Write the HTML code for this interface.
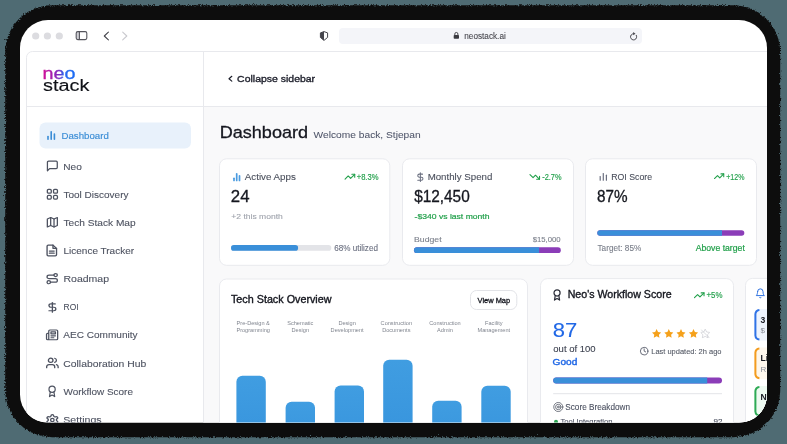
<!DOCTYPE html>
<html><head><meta charset="utf-8"><title>neostack dashboard</title>
<style>
html,body{margin:0;padding:0;background:#4f6b73;width:787px;height:444px;overflow:hidden}
svg text{font-family:"Liberation Sans", sans-serif}
</style></head><body>
<svg width="787" height="444" viewBox="0 0 787 444" style="display:block;will-change:transform">
<defs>
<filter id="jag" x="-5%" y="-5%" width="110%" height="110%"><feTurbulence type="turbulence" baseFrequency="0.9" numOctaves="1" seed="3" result="n"/><feDisplacementMap in="SourceGraphic" in2="n" scale="3.2" xChannelSelector="R" yChannelSelector="G"/></filter>
<clipPath id="win"><rect x="20" y="20" width="747" height="402.6" rx="28"/></clipPath>
<linearGradient id="neo" x1="0" x2="1" y1="0" y2="0">
<stop offset="0" stop-color="#d40f97"/><stop offset="0.3" stop-color="#a21fb0"/><stop offset="0.5" stop-color="#7a2cc0"/><stop offset="0.64" stop-color="#2a68f0"/><stop offset="1" stop-color="#1a6cf5"/>
</linearGradient>
<linearGradient id="bar" x1="0" x2="0" y1="0" y2="1">
<stop offset="0" stop-color="#409de1"/><stop offset="1" stop-color="#3592dc"/>
</linearGradient>
</defs>
<rect x="4.2" y="4.2" width="775" height="432" rx="47" fill="#0c0c0c" filter="url(#jag)"/>
<rect x="20" y="20" width="747" height="402.6" rx="28" fill="#ffffff"/>
<g clip-path="url(#win)">

<circle cx="35.7" cy="36" r="3.6" fill="#dcdce0"/>
<circle cx="47.4" cy="36" r="3.6" fill="#dcdce0"/>
<circle cx="59.3" cy="36" r="3.6" fill="#dcdce0"/>
<rect x="76.4" y="31.8" width="3" height="7.6" fill="#d0d0d5"/>
<rect x="76.2" y="31.6" width="10.6" height="8" rx="1.6" fill="none" stroke="#55555c" stroke-width="1.1"/>
<line x1="79.4" y1="31.6" x2="79.4" y2="39.6" stroke="#55555c" stroke-width="1.1"/>
<path d="M108.4 32.1 L104.3 36 L108.4 39.9" fill="none" stroke="#45454c" stroke-width="1.1" stroke-linecap="round" stroke-linejoin="round"/>
<path d="M122.7 32.1 L126.8 36 L122.7 39.9" fill="none" stroke="#c9c9ce" stroke-width="1.1" stroke-linecap="round" stroke-linejoin="round"/>
<path d="M324 31.6 L320.4 32.9 V37.4 L324 40.4 L327.6 37.4 V32.9 Z" fill="none" stroke="#45454c" stroke-width="1" stroke-linejoin="round"/>
<path d="M324 31.6 L320.4 32.9 V37.4 L324 40.4 Z" fill="#45454c"/>
<rect x="339" y="28" width="303" height="16" rx="4" fill="#f4f5f9"/>
<rect x="453.7" y="35" width="5.3" height="3.8" rx="0.8" fill="#3a3a40"/>
<path d="M454.8 35.2 V34 A1.55 1.55 0 0 1 457.9 34 V35.2" fill="none" stroke="#3a3a40" stroke-width="0.9"/>
<text x="464.31" y="38.70" font-size="8.2" fill="#48484f" textLength="41.48" lengthAdjust="spacingAndGlyphs"  stroke="#48484f" stroke-width="0.1">neostack.ai</text>
<path d="M636.3 35.25 A3.1 3.1 0 1 1 633.4 33.7" fill="none" stroke="#45454c" stroke-width="1" stroke-linecap="round"/>
<path d="M633.2 32.1 L635.5 33.7 L633.2 35.3 Z" fill="#45454c"/>
<rect x="26.5" y="51.5" width="780" height="420" rx="6" fill="#ffffff" stroke="#e8e9ed" stroke-width="1"/>
<rect x="204" y="107" width="600" height="340" fill="#f9f9fa"/>
<line x1="203.5" y1="52" x2="203.5" y2="444" stroke="#e8e9ed" stroke-width="1"/>
<line x1="27" y1="106.5" x2="800" y2="106.5" stroke="#e8e9ed" stroke-width="1"/>
<text x="42.40" y="79.20" font-size="15.6" fill="url(#neo)" textLength="33.00" lengthAdjust="spacingAndGlyphs" stroke="url(#neo)" stroke-width="0.3">neo</text>
<text x="43.10" y="91.30" font-size="15.8" fill="#0f1117" textLength="46.40" lengthAdjust="spacingAndGlyphs" stroke="#0f1117" stroke-width="0.12">stack</text>
<path d="M231.8 76.3 L229 78.7 L231.8 81.1" fill="none" stroke="#1d1f2b" stroke-width="1.2" stroke-linecap="round" stroke-linejoin="round"/>
<text x="237.11" y="81.80" font-size="9.8" fill="#1d1f2b" textLength="77.98" lengthAdjust="spacingAndGlyphs" stroke="#1d1f2b" stroke-width="0.35">Collapse sidebar</text>
<rect x="39.5" y="122.5" width="151.5" height="26" rx="6" fill="#e8f1fb"/>
<g stroke="#3a8dd6" stroke-width="1.6" stroke-linecap="round"><line x1="48" y1="136.5" x2="48" y2="139.2"/><line x1="51.2" y1="131.8" x2="51.2" y2="139.2"/><line x1="54.4" y1="134" x2="54.4" y2="139.2"/></g>
<text x="61.52" y="138.90" font-size="9.6" fill="#3a8dd6" textLength="47.25" lengthAdjust="spacingAndGlyphs" stroke="#3a8dd6" stroke-width="0.15">Dashboard</text>
<text x="63.32" y="169.70" font-size="9.6" fill="#4d5260" textLength="18.55" lengthAdjust="spacingAndGlyphs"  stroke="#4d5260" stroke-width="0.1">Neo</text>
<text x="63.52" y="197.82" font-size="9.6" fill="#4d5260" textLength="64.95" lengthAdjust="spacingAndGlyphs"  stroke="#4d5260" stroke-width="0.1">Tool Discovery</text>
<text x="63.42" y="225.95" font-size="9.6" fill="#4d5260" textLength="72.25" lengthAdjust="spacingAndGlyphs"  stroke="#4d5260" stroke-width="0.1">Tech Stack Map</text>
<text x="63.52" y="254.07" font-size="9.6" fill="#4d5260" textLength="70.55" lengthAdjust="spacingAndGlyphs"  stroke="#4d5260" stroke-width="0.1">Licence Tracker</text>
<text x="63.52" y="282.20" font-size="9.6" fill="#4d5260" textLength="45.55" lengthAdjust="spacingAndGlyphs"  stroke="#4d5260" stroke-width="0.1">Roadmap</text>
<text x="63.52" y="310.32" font-size="9.6" fill="#4d5260" textLength="15.05" lengthAdjust="spacingAndGlyphs"  stroke="#4d5260" stroke-width="0.1">ROI</text>
<text x="63.32" y="338.45" font-size="9.6" fill="#4d5260" textLength="74.25" lengthAdjust="spacingAndGlyphs"  stroke="#4d5260" stroke-width="0.1">AEC Community</text>
<text x="63.32" y="366.57" font-size="9.6" fill="#4d5260" textLength="82.95" lengthAdjust="spacingAndGlyphs"  stroke="#4d5260" stroke-width="0.1">Collaboration Hub</text>
<text x="63.52" y="394.70" font-size="9.6" fill="#4d5260" textLength="69.45" lengthAdjust="spacingAndGlyphs"  stroke="#4d5260" stroke-width="0.1">Workflow Score</text>
<text x="63.32" y="422.82" font-size="9.6" fill="#4d5260" textLength="38.25" lengthAdjust="spacingAndGlyphs"  stroke="#4d5260" stroke-width="0.1">Settings</text>
<svg x="46.8" y="160.5" width="11.100000000000001" height="10.900000000000006" viewBox="1.85 1.85 20.3 20.3" preserveAspectRatio="none" fill="none" stroke="#4d5260" stroke-width="2.3" stroke-linecap="round" stroke-linejoin="round" overflow="visible"><path d="M21 15a2 2 0 0 1-2 2H7l-4 4V5a2 2 0 0 1 2-2h14a2 2 0 0 1 2 2z"/></svg>
<svg x="46.7" y="188.8" width="11.399999999999999" height="11.0" viewBox="1.85 1.85 20.3 20.3" preserveAspectRatio="none" fill="none" stroke="#4d5260" stroke-width="2.3" stroke-linecap="round" stroke-linejoin="round" overflow="visible"><rect x="3" y="3" width="7" height="7" rx="2"/><rect x="14" y="3" width="7" height="7" rx="2"/><rect x="3" y="14" width="7" height="7" rx="2"/><rect x="14" y="14" width="7" height="7" rx="2"/></svg>
<svg x="46.7" y="217" width="11.299999999999997" height="10.599999999999994" viewBox="1.85 1.85 20.3 21.3" preserveAspectRatio="none" fill="none" stroke="#4d5260" stroke-width="2.3" stroke-linecap="round" stroke-linejoin="round" overflow="visible"><polygon points="3 6 3 22 9 19 15 22 21 19 21 3 15 6 9 3 3 6"/><line x1="9" y1="3" x2="9" y2="19"/><line x1="15" y1="6" x2="15" y2="22"/></svg>
<svg x="46.4" y="244.5" width="10.800000000000004" height="12.0" viewBox="2.85 0.8500000000000001 18.3 22.3" preserveAspectRatio="none" fill="none" stroke="#4d5260" stroke-width="2.3" stroke-linecap="round" stroke-linejoin="round" overflow="visible"><path d="M14 2H6a2 2 0 0 0-2 2v16a2 2 0 0 0 2 2h12a2 2 0 0 0 2-2V8z"/><polyline points="14 2 14 8 20 8"/><line x1="16" y1="13" x2="8" y2="13"/><line x1="16" y1="17" x2="8" y2="17"/></svg>
<svg x="46.4" y="273" width="11.600000000000001" height="11.300000000000011" viewBox="1.85 0.8500000000000001 20.3 22.3" preserveAspectRatio="none" fill="none" stroke="#4d5260" stroke-width="2.3" stroke-linecap="round" stroke-linejoin="round" overflow="visible"><circle cx="6" cy="19" r="3"/><path d="M9 19h8.5a3.5 3.5 0 0 0 0-7h-11a3.5 3.5 0 0 1 0-7H15"/><circle cx="18" cy="5" r="3"/></svg>
<svg x="48.3" y="301.9" width="7.600000000000001" height="10.800000000000011" viewBox="4.85 0.8500000000000001 13.3 22.3" preserveAspectRatio="none" fill="none" stroke="#4d5260" stroke-width="2.3" stroke-linecap="round" stroke-linejoin="round" overflow="visible"><line x1="12" y1="2" x2="12" y2="22"/><path d="M17 5H9.5a3.5 3.5 0 0 0 0 7h5a3.5 3.5 0 0 1 0 7H6"/></svg>
<svg x="45.9" y="329.4" width="12.399999999999999" height="10.900000000000034" viewBox="0.8500000000000001 0.8500000000000001 22.3 22.3" preserveAspectRatio="none" fill="none" stroke="#4d5260" stroke-width="2.3" stroke-linecap="round" stroke-linejoin="round" overflow="visible"><path d="M4 22h16a2 2 0 0 0 2-2V4a2 2 0 0 0-2-2H8a2 2 0 0 0-2 2v16a2 2 0 0 1-2 2Zm0 0a2 2 0 0 1-2-2v-9c0-1.1.9-2 2-2h2"/><path d="M18 14h-8"/><path d="M15 18h-5"/><path d="M10 6h8v4h-8V6Z"/></svg>
<svg x="46" y="357.6" width="12.799999999999997" height="10.699999999999989" viewBox="0.8500000000000001 1.85 22.3 20.3" preserveAspectRatio="none" fill="none" stroke="#4d5260" stroke-width="2.3" stroke-linecap="round" stroke-linejoin="round" overflow="visible"><path d="M16 21v-2a4 4 0 0 0-4-4H6a4 4 0 0 0-4 4v2"/><circle cx="9" cy="7" r="4"/><path d="M22 21v-2a4 4 0 0 0-3-3.87"/><path d="M16 3.13a4 4 0 0 1 0 7.75"/></svg>
<svg x="48.4" y="385.6" width="7.399999999999999" height="11.599999999999966" viewBox="4.85 0.8500000000000001 14.3 22.3" preserveAspectRatio="none" fill="none" stroke="#4d5260" stroke-width="2.3" stroke-linecap="round" stroke-linejoin="round" overflow="visible"><circle cx="12" cy="8" r="6"/><path d="M15.477 12.89 17 22l-5-3-5 3 1.523-9.11"/></svg>
<svg x="46.4" y="414" width="11.899999999999999" height="11.899999999999977" viewBox="1.85 0.8500000000000001 20.3 22.3" preserveAspectRatio="none" fill="none" stroke="#4d5260" stroke-width="2.3" stroke-linecap="round" stroke-linejoin="round" overflow="visible"><path d="M12.22 2h-.44a2 2 0 0 0-2 2v.18a2 2 0 0 1-1 1.73l-.43.25a2 2 0 0 1-2 0l-.15-.08a2 2 0 0 0-2.73.73l-.22.38a2 2 0 0 0 .73 2.73l.15.1a2 2 0 0 1 1 1.72v.51a2 2 0 0 1-1 1.74l-.15.09a2 2 0 0 0-.73 2.73l.22.38a2 2 0 0 0 2.73.73l.15-.08a2 2 0 0 1 2 0l.43.25a2 2 0 0 1 1 1.73V20a2 2 0 0 0 2 2h.44a2 2 0 0 0 2-2v-.18a2 2 0 0 1 1-1.73l.43-.25a2 2 0 0 1 2 0l.15.08a2 2 0 0 0 2.73-.73l.22-.39a2 2 0 0 0-.73-2.73l-.15-.08a2 2 0 0 1-1-1.74v-.5a2 2 0 0 1 1-1.74l.15-.09a2 2 0 0 0 .73-2.73l-.22-.38a2 2 0 0 0-2.73-.73l-.15.08a2 2 0 0 1-2 0l-.43-.25a2 2 0 0 1-1-1.73V4a2 2 0 0 0-2-2z"/><circle cx="12" cy="12" r="3"/></svg>
<text x="219.67" y="137.70" font-size="17.2" fill="#15171f" textLength="88.46" lengthAdjust="spacingAndGlyphs" stroke="#15171f" stroke-width="0.3">Dashboard</text>
<text x="313.64" y="137.60" font-size="9.4" fill="#50566a" textLength="107.03" lengthAdjust="spacingAndGlyphs" stroke="#50566a" stroke-width="0.05">Welcome back, Stjepan</text>
<rect x="219.5" y="158.8" width="170.3" height="106.5" rx="7" fill="#ffffff" stroke="#e9eaee" stroke-width="1"/>
<rect x="402.5" y="158.8" width="171" height="106.5" rx="7" fill="#ffffff" stroke="#e9eaee" stroke-width="1"/>
<rect x="585.5" y="158.8" width="171" height="106.5" rx="7" fill="#ffffff" stroke="#e9eaee" stroke-width="1"/>
<g stroke="#4a9be0" stroke-width="1.7" stroke-linecap="round"><line x1="234" y1="178.3" x2="234" y2="180.4"/><line x1="236.7" y1="173.8" x2="236.7" y2="180.4"/><line x1="239.5" y1="175.8" x2="239.5" y2="180.4"/></g>
<text x="244.75" y="180.30" font-size="9.2" fill="#4a4f5c" textLength="51.10" lengthAdjust="spacingAndGlyphs"  stroke="#4a4f5c" stroke-width="0.1">Active Apps</text>
<svg x="344.6" y="173.6" width="10.6" height="6.2" viewBox="1 6 22 12" fill="none" stroke="#22a04b" stroke-width="2.3" stroke-linecap="round" stroke-linejoin="round" overflow="visible" ><polyline points="22 7 13.5 15.5 8.5 10.5 2 17"/><polyline points="16 7 22 7 22 13"/></svg>
<text x="356.68" y="180.20" font-size="8.7" fill="#22a04b" textLength="21.84" lengthAdjust="spacingAndGlyphs" stroke="#22a04b" stroke-width="0.15">+8.3%</text>
<text x="230.86" y="202.00" font-size="15.6" fill="#15171f" textLength="18.67" lengthAdjust="spacingAndGlyphs" stroke="#15171f" stroke-width="0.3">24</text>
<text x="231.31" y="219.00" font-size="8.1" fill="#9ea2ab" textLength="51.57" lengthAdjust="spacingAndGlyphs"  stroke="#9ea2ab" stroke-width="0.1">+2 this month</text>
<rect x="231" y="245.1" width="100.3" height="5.7" rx="2.85" fill="#e3e4e8"/>
<rect x="231" y="245.1" width="67.1" height="5.7" rx="2.85" fill="#3a8fd9"/>
<text x="334.19" y="251.20" font-size="8.5" fill="#6b7080" textLength="43.72" lengthAdjust="spacingAndGlyphs"  stroke="#6b7080" stroke-width="0.1">68% utilized</text>
<svg x="416.8" y="172.4" width="6.7" height="9.5" viewBox="5 1 13 22" fill="none" stroke="#6b7080" stroke-width="2.4" stroke-linecap="round" stroke-linejoin="round" overflow="visible" ><line x1="12" y1="2" x2="12" y2="22"/><path d="M17 5H9.5a3.5 3.5 0 0 0 0 7h5a3.5 3.5 0 0 1 0 7H6"/></svg>
<text x="427.65" y="180.30" font-size="9.2" fill="#4a4f5c" textLength="64.70" lengthAdjust="spacingAndGlyphs"  stroke="#4a4f5c" stroke-width="0.1">Monthly Spend</text>
<svg x="529.5" y="173.8" width="10.5" height="6.2" viewBox="1 6 22 12" fill="none" stroke="#22a04b" stroke-width="2.3" stroke-linecap="round" stroke-linejoin="round" overflow="visible" ><polyline points="22 17 13.5 8.5 8.5 13.5 2 7"/><polyline points="16 17 22 17 22 11"/></svg>
<text x="542.28" y="180.20" font-size="8.7" fill="#22a04b" textLength="19.24" lengthAdjust="spacingAndGlyphs" stroke="#22a04b" stroke-width="0.15">-2.7%</text>
<text x="414.16" y="201.90" font-size="15.6" fill="#15171f" textLength="55.57" lengthAdjust="spacingAndGlyphs" stroke="#15171f" stroke-width="0.3">$12,450</text>
<text x="414.62" y="219.10" font-size="8" fill="#22a04b" textLength="74.86" lengthAdjust="spacingAndGlyphs" stroke="#22a04b" stroke-width="0.2">-$340 vs last month</text>
<text x="414.01" y="242.10" font-size="8.1" fill="#7a7f8a" textLength="27.57" lengthAdjust="spacingAndGlyphs"  stroke="#7a7f8a" stroke-width="0.1">Budget</text>
<text x="532.72" y="242.00" font-size="8" fill="#7a7f8a" textLength="27.96" lengthAdjust="spacingAndGlyphs"  stroke="#7a7f8a" stroke-width="0.1">$15,000</text>
<rect x="414" y="247.3" width="146.8" height="5.7" rx="2.85" fill="#8b3db8"/>
<path d="M416.85 247.3 H539.1 V253 H416.85 A2.85 2.85 0 0 1 416.85 247.3 Z" fill="#3a8fd9"/>
<g stroke="#6b7080" stroke-width="1.2" stroke-linecap="round"><line x1="600.2" y1="176.5" x2="600.2" y2="180.2"/><line x1="603.3" y1="173.5" x2="603.3" y2="180.2"/><line x1="606.4" y1="175.2" x2="606.4" y2="180.2"/></g>
<text x="611.15" y="180.40" font-size="9.2" fill="#4a4f5c" textLength="40.90" lengthAdjust="spacingAndGlyphs"  stroke="#4a4f5c" stroke-width="0.1">ROI Score</text>
<svg x="714" y="173.2" width="10.2" height="6" viewBox="1 6 22 12" fill="none" stroke="#22a04b" stroke-width="2.3" stroke-linecap="round" stroke-linejoin="round" overflow="visible" ><polyline points="22 7 13.5 15.5 8.5 10.5 2 17"/><polyline points="16 7 22 7 22 13"/></svg>
<text x="726.28" y="180.00" font-size="8.7" fill="#22a04b" textLength="18.14" lengthAdjust="spacingAndGlyphs" stroke="#22a04b" stroke-width="0.15">+12%</text>
<text x="597.06" y="202.00" font-size="15.6" fill="#15171f" textLength="30.57" lengthAdjust="spacingAndGlyphs" stroke="#15171f" stroke-width="0.3">87%</text>
<rect x="597.3" y="230.2" width="147" height="5.5" rx="2.75" fill="#8b3db8"/>
<path d="M600.05 230.2 H722 V235.7 H600.05 A2.75 2.75 0 0 1 600.05 230.2 Z" fill="#3a8fd9"/>
<text x="597.49" y="251.20" font-size="8.5" fill="#7a7f8a" textLength="43.82" lengthAdjust="spacingAndGlyphs"  stroke="#7a7f8a" stroke-width="0.1">Target: 85%</text>
<text x="695.70" y="251.00" font-size="8.3" fill="#22a04b" textLength="49.10" lengthAdjust="spacingAndGlyphs" stroke="#22a04b" stroke-width="0.2">Above target</text>
<rect x="219.5" y="279" width="308" height="200" rx="7" fill="#ffffff" stroke="#e9eaee" stroke-width="1"/>
<text x="230.98" y="302.80" font-size="10.4" fill="#15171f" textLength="100.55" lengthAdjust="spacingAndGlyphs" stroke="#15171f" stroke-width="0.35">Tech Stack Overview</text>
<rect x="470.5" y="290.5" width="46.3" height="19" rx="6" fill="#ffffff" stroke="#e2e3e7" stroke-width="1"/>
<text x="477.56" y="302.50" font-size="7.4" fill="#15171f" textLength="32.59" lengthAdjust="spacingAndGlyphs" stroke="#15171f" stroke-width="0.3">View Map</text>
<text x="253.20" y="325.00" font-size="5.6" fill="#80858f" text-anchor="middle" >Pre-Design &amp;</text>
<text x="253.20" y="332.00" font-size="5.6" fill="#80858f" text-anchor="middle" >Programming</text>
<text x="300.30" y="325.00" font-size="5.6" fill="#80858f" text-anchor="middle" >Schematic</text>
<text x="300.30" y="332.00" font-size="5.6" fill="#80858f" text-anchor="middle" >Design</text>
<text x="347.10" y="325.00" font-size="5.6" fill="#80858f" text-anchor="middle" >Design</text>
<text x="347.10" y="332.00" font-size="5.6" fill="#80858f" text-anchor="middle" >Development</text>
<text x="396.30" y="325.00" font-size="5.6" fill="#80858f" text-anchor="middle" >Construction</text>
<text x="396.30" y="332.00" font-size="5.6" fill="#80858f" text-anchor="middle" >Documents</text>
<text x="445.00" y="325.00" font-size="5.6" fill="#80858f" text-anchor="middle" >Construction</text>
<text x="445.00" y="332.00" font-size="5.6" fill="#80858f" text-anchor="middle" >Admin</text>
<text x="493.80" y="325.00" font-size="5.6" fill="#80858f" text-anchor="middle" >Facility</text>
<text x="493.80" y="332.00" font-size="5.6" fill="#80858f" text-anchor="middle" >Management</text>
<rect x="236.4" y="375.7" width="29.4" height="84.30000000000001" rx="6" fill="url(#bar)"/>
<rect x="285.6" y="401.8" width="29.4" height="58.19999999999999" rx="6" fill="url(#bar)"/>
<rect x="334.6" y="385.6" width="29.4" height="74.39999999999998" rx="6" fill="url(#bar)"/>
<rect x="383.2" y="359.7" width="29.4" height="100.30000000000001" rx="6" fill="url(#bar)"/>
<rect x="432.2" y="400.8" width="29.4" height="59.19999999999999" rx="6" fill="url(#bar)"/>
<rect x="481.3" y="385.7" width="29.4" height="74.30000000000001" rx="6" fill="url(#bar)"/>
<rect x="540.5" y="278.6" width="193" height="200" rx="7" fill="#ffffff" stroke="#e9eaee" stroke-width="1"/>
<svg x="553" y="289.4" width="8.1" height="11.2" viewBox="5 1 14 22" fill="none" stroke="#2a2d38" stroke-width="2.4" stroke-linecap="round" stroke-linejoin="round" overflow="visible" ><circle cx="12" cy="8" r="6"/><path d="M15.477 12.89 17 22l-5-3-5 3 1.523-9.11"/></svg>
<text x="567.68" y="298.10" font-size="10.4" fill="#15171f" textLength="103.95" lengthAdjust="spacingAndGlyphs" stroke="#15171f" stroke-width="0.35">Neo's Workflow Score</text>
<svg x="694" y="292.3" width="10.5" height="6" viewBox="1 6 22 12" fill="none" stroke="#22a04b" stroke-width="2.3" stroke-linecap="round" stroke-linejoin="round" overflow="visible" ><polyline points="22 7 13.5 15.5 8.5 10.5 2 17"/><polyline points="16 7 22 7 22 13"/></svg>
<text x="706.49" y="298.30" font-size="8.5" fill="#22a04b" textLength="16.02" lengthAdjust="spacingAndGlyphs" stroke="#22a04b" stroke-width="0.15">+5%</text>
<text x="552.65" y="337.00" font-size="20.8" fill="#2168e6" textLength="24.50" lengthAdjust="spacingAndGlyphs" stroke="#2168e6" stroke-width="0.12">87</text>
<text x="553.35" y="351.60" font-size="9.2" fill="#3d4250" textLength="42.20" lengthAdjust="spacingAndGlyphs"  stroke="#3d4250" stroke-width="0.1">out of 100</text>
<text x="552.64" y="364.90" font-size="9.3" fill="#2168e6" textLength="24.72" lengthAdjust="spacingAndGlyphs" stroke="#2168e6" stroke-width="0.4">Good</text>
<svg x="652.0" y="329.09999999999997" width="9.2" height="9.2" viewBox="2 2 20 20"><polygon points="12 2 15.09 8.26 22 9.27 17 14.14 18.18 21.02 12 17.77 5.82 21.02 7 14.14 2 9.27 8.91 8.26 12 2" fill="#f5a11b"/></svg>
<svg x="664.1999999999999" y="329.09999999999997" width="9.2" height="9.2" viewBox="2 2 20 20"><polygon points="12 2 15.09 8.26 22 9.27 17 14.14 18.18 21.02 12 17.77 5.82 21.02 7 14.14 2 9.27 8.91 8.26 12 2" fill="#f5a11b"/></svg>
<svg x="676.4" y="329.09999999999997" width="9.2" height="9.2" viewBox="2 2 20 20"><polygon points="12 2 15.09 8.26 22 9.27 17 14.14 18.18 21.02 12 17.77 5.82 21.02 7 14.14 2 9.27 8.91 8.26 12 2" fill="#f5a11b"/></svg>
<svg x="688.9" y="329.09999999999997" width="9.2" height="9.2" viewBox="2 2 20 20"><polygon points="12 2 15.09 8.26 22 9.27 17 14.14 18.18 21.02 12 17.77 5.82 21.02 7 14.14 2 9.27 8.91 8.26 12 2" fill="#f5a11b"/></svg>
<svg x="700.6" y="329.09999999999997" width="9.2" height="9.2" viewBox="2 2 20 20"><polygon points="12 2 15.09 8.26 22 9.27 17 14.14 18.18 21.02 12 17.77 5.82 21.02 7 14.14 2 9.27 8.91 8.26 12 2" fill="none" stroke="#c9cbd1" stroke-width="1.5"/><line x1="3" y1="3" x2="21" y2="21" stroke="#c9cbd1" stroke-width="1.5"/></svg>
<svg x="640" y="347" width="8.3" height="8.3" viewBox="1 1 22 22" fill="none" stroke="#4b5060" stroke-width="2.2" stroke-linecap="round" stroke-linejoin="round" overflow="visible" ><circle cx="12" cy="12" r="10"/><polyline points="12 6 12 12 16 14"/></svg>
<text x="651.22" y="354.20" font-size="8" fill="#555a66" textLength="70.26" lengthAdjust="spacingAndGlyphs"  stroke="#555a66" stroke-width="0.1">Last updated: 2h ago</text>
<rect x="553.2" y="377.4" width="168.8" height="6" rx="3" fill="#8b3db8"/>
<path d="M556.2 377.4 H707.2 V383.4 H556.2 A3 3 0 0 1 556.2 377.4 Z" fill="#3a8fd9"/>
<line x1="553.2" y1="393.7" x2="722" y2="393.7" stroke="#e3e4e8" stroke-width="1"/>
<svg x="553.2" y="402" width="10.2" height="10" viewBox="1 1 22 22" fill="none" stroke="#5a5f6b" stroke-width="1.8" stroke-linecap="round" stroke-linejoin="round" overflow="visible" ><circle cx="12" cy="12" r="10"/><circle cx="12" cy="12" r="6"/><circle cx="12" cy="12" r="2"/></svg>
<text x="565.30" y="409.90" font-size="8.4" fill="#4b5060" textLength="64.71" lengthAdjust="spacingAndGlyphs"  stroke="#4b5060" stroke-width="0.1">Score Breakdown</text>
<circle cx="556" cy="421.8" r="2" fill="#2ea553"/>
<text x="560.52" y="424.00" font-size="8" fill="#4b5060" textLength="51.96" lengthAdjust="spacingAndGlyphs"  stroke="#4b5060" stroke-width="0.1">Tool Integration</text>
<text x="713.52" y="424.00" font-size="8" fill="#4b5060" textLength="8.96" lengthAdjust="spacingAndGlyphs"  stroke="#4b5060" stroke-width="0.1">92</text>
<rect x="745.5" y="278.4" width="193" height="200" rx="7" fill="#ffffff" stroke="#e9eaee" stroke-width="1"/>
<svg x="755.6" y="288.4" width="9.4" height="9.9" viewBox="2 1 20 22" fill="none" stroke="#2a6fe0" stroke-width="2.2" stroke-linecap="round" stroke-linejoin="round" overflow="visible" ><path d="M6 8a6 6 0 0 1 12 0c0 7 3 9 3 9H3s3-2 3-9"/><path d="M10.3 21a1.94 1.94 0 0 0 3.4 0"/></svg>
<rect x="754.4" y="309" width="60" height="31.5" rx="5" fill="#eef4fd"/>
<path d="M759.4 309.9 A4.5 4.5 0 0 0 755.4 314 V335.5 A4.5 4.5 0 0 0 759.4 339.6" fill="none" stroke="#2f73e6" stroke-width="2"/>
<text x="760.6" y="322.7" font-size="8.6" font-weight="bold" fill="#15171f">3</text>
<text x="760.5" y="333.3" font-size="8" fill="#8a8e98">$</text>
<rect x="754.4" y="347.5" width="60" height="31.69999999999999" rx="5" fill="#fef7ec"/>
<path d="M759.4 348.4 A4.5 4.5 0 0 0 755.4 352.5 V374.2 A4.5 4.5 0 0 0 759.4 378.3" fill="none" stroke="#f39c1f" stroke-width="2"/>
<text x="760.6" y="361.2" font-size="8.6" font-weight="bold" fill="#15171f">Li</text>
<text x="760.5" y="371.8" font-size="8" fill="#8a8e98">R</text>
<rect x="754.4" y="386" width="60" height="30.5" rx="5" fill="#eefaf1"/>
<path d="M759.4 386.9 A4.5 4.5 0 0 0 755.4 391 V411.5 A4.5 4.5 0 0 0 759.4 415.6" fill="none" stroke="#2eaa55" stroke-width="2"/>
<text x="760.6" y="399.7" font-size="8.6" font-weight="bold" fill="#15171f">N</text>
</g>
</svg>
</body></html>
